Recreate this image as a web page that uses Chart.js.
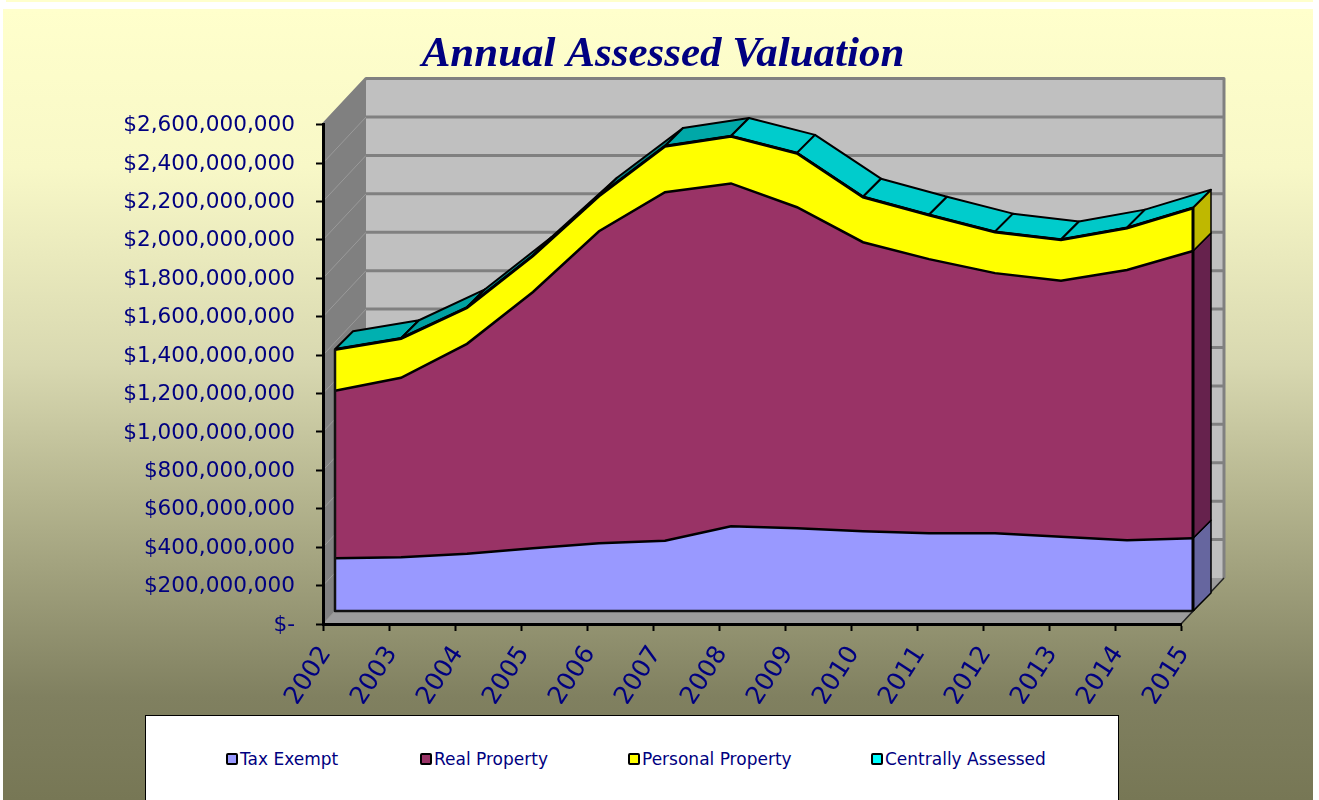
<!DOCTYPE html>
<html>
<head>
<meta charset="utf-8">
<title>Annual Assessed Valuation</title>
<script src="https://cdn.jsdelivr.net/npm/chart.js@4/dist/chart.umd.min.js"></script>
<style>
  html, body { margin: 0; padding: 0; width: 1319px; height: 800px; overflow: hidden; background: #fff; }
  #strip { position: absolute; left: 6px; top: 0; width: 1307px; height: 2px; background: #ffffcc; }
  #panel { position: absolute; left: 3px; top: 9px; width: 1310px; height: 791px;
    background: linear-gradient(to bottom, #ffffcc 0%, #f8f8c7 20%, #d8d8b0 45%, #b4b48e 62%, #808060 87%, #777755 100%); }
  #myChart { position: absolute; left: 0; top: 0; }
  #legendBox { position: absolute; left: 145px; top: 715px; width: 972px; height: 120px; background: #fff; border: 1px solid #000; }
  .item { position: absolute; top: 33px; font: 17px "DejaVu Sans", sans-serif; color: #000080; white-space: nowrap; line-height: 20px; }
  .swatch { position: absolute; left: -14px; top: 4px; width: 8px; height: 8px; border: 2px solid #000; border-radius: 2px; }
</style>
</head>
<body>
<div id="strip"></div>
<div id="panel"></div>
<canvas id="myChart" width="1319" height="800"></canvas>
<div id="legendBox"></div>
<script>
const years = ['2002','2003','2004','2005','2006','2007','2008','2009','2010','2011','2012','2013','2014','2015'];

// values, in dollars
const taxExempt = [275e6,280e6,298e6,327e6,353e6,366e6,441e6,431e6,415e6,405e6,405e6,387e6,368e6,379e6];
const realProperty = [872e6,934e6,1093e6,1334e6,1624e6,1814e6,1785e6,1671e6,1505e6,1427e6,1354e6,1333e6,1407e6,1495e6];
const personalProperty = [213e6,203e6,187e6,187e6,182e6,238e6,244e6,280e6,234e6,228e6,213e6,211e6,218e6,223e6];
const centrallyAssessed = [3e6,3e6,3e6,3e6,3e6,3e6,3e6,3e6,3e6,3e6,3e6,3e6,3e6,3e6];

const seriesNames = ['Tax Exempt','Real Property','Personal Property','Centrally Assessed'];
const seriesColors = ['#9999ff','#993366','#ffff00','#00ffff'];
const sideColors = ['#66669f','#66224d','#bfb800'];
const topFaceColors = ['#00b0b0','#00a0a0','#008a8a','#007070','#008080','#00a8a8','#00cccc','#00cccc','#00cccc','#00cccc','#00cccc','#00c8c8','#00c8c8'];
const legendLeft = [94,288,496,739];

// 3D look: front of the areas and back wall are offset from the axis plane
const front = {x: 12, y: -13};
const depth = {x: 18, y: -18};
const wall = {x: 43, y: -46};

function poly(ctx, pts, fill, stroke, width){
  ctx.beginPath();
  pts.forEach((p, i) => i ? ctx.lineTo(p[0], p[1]) : ctx.moveTo(p[0], p[1]));
  if (fill){
    ctx.closePath();
    ctx.fillStyle = fill;
    ctx.fill();
  }
  if (stroke){
    ctx.strokeStyle = stroke;
    ctx.lineWidth = width;
    ctx.lineJoin = 'round';
    ctx.stroke();
  }
}

const box3d = {
  id: 'box3d',
  afterLayout(chart){
    // labels get clipped to the scale box, the left padding is there to centre the title
    chart.scales.y.left -= 40;
  },
  beforeDraw(chart){
    const {ctx, chartArea: a, scales: {y}} = chart;
    ctx.save();
    // back wall
    poly(ctx, [[a.left+wall.x,a.top+wall.y],[a.right+wall.x,a.top+wall.y],[a.right+wall.x,a.bottom+wall.y],[a.left+wall.x,a.bottom+wall.y]], '#c0c0c0');
    // left wall
    poly(ctx, [[a.left,a.top],[a.left+wall.x,a.top+wall.y],[a.left+wall.x,a.bottom+wall.y],[a.left,a.bottom]], '#808080');
    // floor
    poly(ctx, [[a.left,a.bottom],[a.right,a.bottom],[a.right+wall.x,a.bottom+wall.y],[a.left+wall.x,a.bottom+wall.y]], '#9c9c9c');
    y.ticks.forEach(t => {
      const py = y.getPixelForValue(t.value);
      poly(ctx, [[a.left,py],[a.left+wall.x,py+wall.y]], null, '#9a9a9a', 1);
      if (t.value > 0) poly(ctx, [[a.left+wall.x,py+wall.y],[a.right+wall.x,py+wall.y]], null, '#808080', 3);
    });
    poly(ctx, [[a.left,a.top],[a.left+wall.x,a.top+wall.y],[a.right+wall.x,a.top+wall.y],[a.right+wall.x,a.bottom+wall.y]], null, '#808080', 3);
    poly(ctx, [[a.right,a.bottom],[a.right+wall.x,a.bottom+wall.y]], null, '#222', 1.5);
    ctx.restore();
  },
  beforeDatasetsDraw(chart){
    const {ctx} = chart;
    const pts = n => chart.getDatasetMeta(n).data.map(p => [p.x+front.x, p.y+front.y]);
    const topLine = pts(3);
    const floorY = chart.chartArea.bottom+front.y;
    ctx.save();
    // top faces, one per year gap
    for (let i = 0; i < topLine.length-1; i++){
      const p = topLine[i], q = topLine[i+1];
      poly(ctx, [p,q,[q[0]+depth.x,q[1]+depth.y],[p[0]+depth.x,p[1]+depth.y]], topFaceColors[i], '#000', 2);
    }
    // right hand side faces
    const last = topLine.length-1;
    for (let n = 0; n < 3; n++){
      const t = pts(n)[last];
      const b = n ? pts(n-1)[last] : [t[0], floorY];
      poly(ctx, [t,[t[0]+depth.x,t[1]+depth.y],[b[0]+depth.x,b[1]+depth.y],b], sideColors[n], '#000', 1.5);
    }
    ctx.restore();
    // the areas themselves get drawn on the front plane
    ctx.save();
    ctx.translate(front.x, front.y);
  },
  afterDatasetsDraw(chart){
    const {ctx, chartArea: a} = chart;
    ctx.restore();
    const l = a.left+front.x, r = a.right+front.x, b = a.bottom+front.y;
    const topL = chart.getDatasetMeta(3).data[0].y+front.y;
    const topR = chart.getDatasetMeta(3).data[years.length-1].y+front.y;
    ctx.save();
    poly(ctx, [[l,topL],[l,b],[r,b]], null, '#111', 2.5);
    poly(ctx, [[r,topR],[r,b]], null, '#000', 3);
    ctx.restore();
  }
};

const ctx = document.getElementById('myChart').getContext('2d');

const datasets = [taxExempt, realProperty, personalProperty, centrallyAssessed].map((values, i) => ({
  label: seriesNames[i],
  data: values,
  backgroundColor: seriesColors[i],
  borderColor: '#000',
  borderWidth: 2.5,
  pointRadius: 0,
  tension: 0,
  clip: false,
  fill: i ? '-1' : 'origin'
}));

const myChart = new Chart(ctx, {
  type: 'line',
  data: {labels: years, datasets: datasets},
  plugins: [box3d],
  options: {
    responsive: false,
    animation: false,
    layout: {padding: {left: 145, right: 138, top: 12, bottom: 96}},
    plugins: {
      legend: {display: false},
      tooltip: {enabled: false},
      title: {
        display: true,
        text: 'Annual Assessed Valuation',
        color: '#000080',
        font: {family: '"Liberation Serif", serif', size: 43, style: 'italic', weight: 'bold'},
        padding: {top: 17, bottom: 44}
      }
    },
    scales: {
      x: {
        stacked: true,
        offset: false,
        afterFit(scale){ scale.height = 80; },
        border: {color: '#000', width: 3},
        grid: {drawOnChartArea: false, color: '#000', tickLength: 7, tickWidth: 2},
        ticks: {color: '#000080', font: {family: '"DejaVu Sans"', size: 25}, minRotation: 57, maxRotation: 57, autoSkip: false, padding: 10, labelOffset: 3}
      },
      y: {
        stacked: true,
        min: 0,
        max: 2600000000,
        afterFit(scale){ scale.width = 178; },
        border: {color: '#000', width: 3},
        grid: {drawOnChartArea: false, color: '#000', tickLength: 7, tickWidth: 2},
        ticks: {
          color: '#000080',
          stepSize: 200000000,
          padding: 21,
          labelOffset: 1,
          font: {family: '"DejaVu Sans"', size: 21.6},
          callback: v => v === 0 ? '$-' : '$' + v.toLocaleString('en-US')
        }
      }
    }
  }
});

// legend sits in its own white box under the chart
const legendBox = document.getElementById('legendBox');
myChart.data.datasets.forEach((ds, i) => {
  const item = document.createElement('div');
  item.className = 'item';
  item.style.left = legendLeft[i] + 'px';
  item.textContent = ds.label;
  const swatch = document.createElement('span');
  swatch.className = 'swatch';
  swatch.style.background = ds.backgroundColor;
  item.appendChild(swatch);
  legendBox.appendChild(item);
});
</script>
</body>
</html>
